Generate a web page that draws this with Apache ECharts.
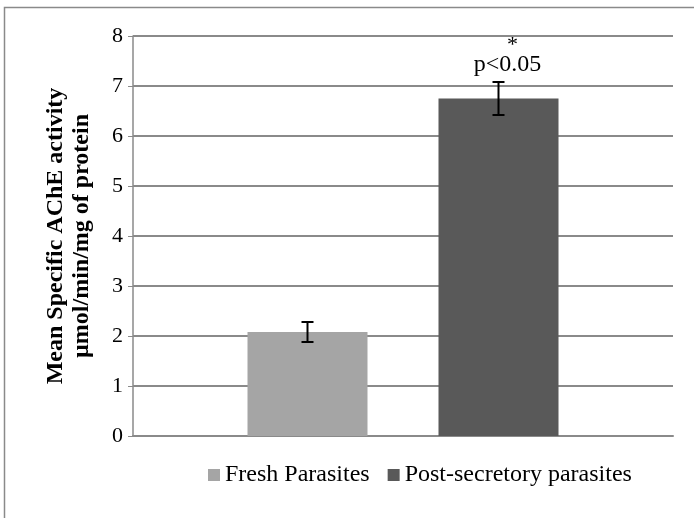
<!DOCTYPE html>
<html>
<head>
<meta charset="utf-8">
<script src="https://cdn.jsdelivr.net/npm/echarts@6/dist/echarts.min.js"></script>
<style>html,body{margin:0;padding:0;background:#fff}#c{width:694px;height:518px}</style>
</head>
<body>
<div id="c"></div>
<script>
var categories = [''];
var seriesNames = ['Fresh Parasites', 'Post-secretory parasites'];
var seriesValues = [2.08, 6.75];
var errorValues = [0.2, 0.33];
var annotationStars = ['', '*'];
var annotationTexts = ['', 'p<0.05'];
var seriesColors = ['#a5a5a5', '#595959'];
var yTicks = [0, 8, 1];

var FONT = "'Liberation Serif','Times New Roman',serif";
var BAR_W = 120, BAR_GAP_PX = 71;

var chart = echarts.init(document.getElementById('c'));

var barSeries = seriesNames.map(function (name, i) {
  return {
    name: name, type: 'bar', data: [seriesValues[i]],
    barWidth: BAR_W, barGap: (BAR_GAP_PX / BAR_W * 100) + '%',
    itemStyle: { color: seriesColors[i] }, z: 2
  };
});

var errData = seriesValues.map(function (v, i) { return [0, v, errorValues[i], i]; });

var errSeries = {
  type: 'custom', name: 'err', silent: true, z: 5,
  data: errData,
  encode: { x: 0, y: 1 },
  renderItem: function (params, api) {
    var idx = api.value(3);
    var v = api.value(1), e = api.value(2);
    var shift = (idx === 0 ? -1 : 1) * (BAR_W + BAR_GAP_PX) / 2;
    var top = api.coord([0, v + e]);
    var bot = api.coord([0, v - e]);
    var x = top[0] + shift;
    var style = { stroke: '#000', lineWidth: 2 };
    var children = [
      { type: 'line', shape: { x1: x, y1: top[1], x2: x, y2: bot[1] }, style: style },
      { type: 'line', shape: { x1: x - 6, y1: top[1], x2: x + 6, y2: top[1] }, style: style },
      { type: 'line', shape: { x1: x - 6, y1: bot[1], x2: x + 6, y2: bot[1] }, style: style }
    ];
    if (annotationTexts[idx]) {
      children.push({
        type: 'text',
        style: { x: x + 9, y: top[1] - 5, text: annotationTexts[idx], textAlign: 'center', textVerticalAlign: 'bottom',
                 font: '24px ' + FONT, fill: '#000' }
      });
    }
    if (annotationStars[idx]) {
      children.push({
        type: 'text',
        style: { x: x + 14, y: top[1] - 26, text: annotationStars[idx], textAlign: 'center', textVerticalAlign: 'bottom',
                 font: '22px ' + FONT, fill: '#000' }
      });
    }
    return { type: 'group', children: children };
  }
};

chart.setOption({
  animation: false,
  backgroundColor: '#fff',
  graphic: [{
    type: 'rect', shape: { x: 4.5, y: 7.5, width: 1000, height: 1000 },
    style: { fill: 'none', stroke: '#8a8a8a', lineWidth: 1.5 }, silent: true
  }],
  grid: { left: 133, right: 21, top: 36, bottom: 82, containLabel: false },
  legend: {
    data: seriesNames, left: 203, top: 458, itemWidth: 12, itemHeight: 12, itemGap: 18,
    icon: 'rect',
    textStyle: { fontFamily: FONT, fontSize: 24, color: '#000', padding: [0, 0, 0, 0] }
  },
  xAxis: {
    type: 'category', data: categories,
    axisLine: { lineStyle: { color: '#8a8a8a', width: 2 } },
    axisTick: { show: false }, axisLabel: { show: false }
  },
  yAxis: {
    type: 'value', min: yTicks[0], max: yTicks[1], interval: yTicks[2],
    name: 'Mean Specific AChE activity\nµmol/min/mg of protein',
    nameLocation: 'middle', nameGap: 38, nameRotate: 90,
    nameTextStyle: { fontFamily: FONT, fontSize: 24, fontWeight: 'bold', color: '#000', lineHeight: 26 },
    axisLine: { show: true, lineStyle: { color: '#8a8a8a', width: 1.5 } },
    axisTick: { show: true, length: 5, lineStyle: { color: '#8a8a8a' } },
    axisLabel: { fontFamily: FONT, fontSize: 22, color: '#000', margin: 10 },
    splitLine: { lineStyle: { color: '#8a8a8a', width: 2 } }
  },
  series: barSeries.concat([errSeries])
});
</script>
</body>
</html>
